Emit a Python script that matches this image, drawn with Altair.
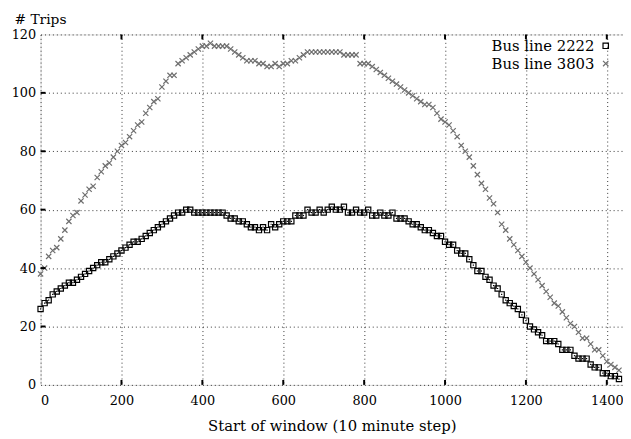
import altair as alt
import pandas as pd

x_vals = list(range(0, 1440, 10))

bus_2222 = [26, 28, 29, 31, 32, 33, 34, 35, 35, 36, 37, 38, 39, 40, 41, 42, 42, 43, 44, 45,
            46, 47, 48, 49, 49, 50, 51, 52, 53, 54, 55, 56, 57, 58, 59, 59, 60, 60, 59, 59,
            59, 59, 59, 59, 59, 59, 58, 57, 57, 56, 56, 55, 54, 54, 53, 54, 53, 55, 54, 55,
            56, 56, 56, 58, 58, 58, 60, 59, 59, 60, 59, 60, 61, 60, 60, 61, 59, 59, 60, 59,
            59, 60, 58, 58, 59, 58, 58, 59, 57, 57, 57, 56, 55, 55, 54, 53, 53, 52, 51, 51,
            49, 48, 48, 46, 45, 45, 43, 41, 39, 39, 37, 36, 34, 33, 31, 29, 28, 27, 26, 24,
            22, 20, 19, 18, 17, 15, 15, 15, 14, 12, 12, 12, 10, 9, 9, 9, 7, 6, 6, 4,
            4, 3, 3, 2]

bus_3803 = [38, 40, 44, 46, 47, 50, 53, 56, 58, 59, 63, 65, 67, 68, 71, 73, 75, 76, 78, 80,
            82, 83, 85, 87, 89, 90, 93, 95, 97, 98, 102, 104, 106, 106, 110, 111, 112, 113, 114, 115,
            116, 116, 117, 116, 116, 116, 116, 115, 114, 113, 112, 111, 111, 111, 110, 110, 109, 109, 110, 109,
            110, 110, 111, 111, 112, 113, 114, 114, 114, 114, 114, 114, 114, 114, 114, 113, 113, 113, 113, 110,
            110, 110, 109, 108, 107, 106, 105, 104, 103, 102, 101, 100, 99, 98, 97, 96, 96, 95, 93, 91,
            90, 89, 87, 85, 82, 80, 78, 75, 72, 69, 67, 64, 62, 59, 55, 53, 50, 48, 46, 44,
            42, 40, 38, 36, 34, 32, 30, 28, 27, 25, 23, 21, 20, 18, 16, 16, 14, 12, 12, 10,
            8, 7, 6, 5]

series_names = ["Bus line 2222", "Bus line 3803"]
x_ticks = [0, 200, 400, 600, 800, 1000, 1200, 1400]
y_ticks = [0, 20, 40, 60, 80, 100, 120]

FONT = "DejaVu Serif"
FS = 13
TFS = 15
CROSS = "M-1,-1L1,1M-1,1L1,-1"

df = pd.DataFrame({
    "x": x_vals + x_vals,
    "y": bus_2222 + bus_3803,
    "series": [series_names[0]] * len(bus_2222) + [series_names[1]] * len(bus_3803),
})
xt = pd.DataFrame({"x": x_ticks[1:]})
yt = pd.DataFrame({"y": y_ticks[1:-1]})

xenc = alt.X("x:Q", scale=alt.Scale(domain=[0, 1440], nice=False, zero=False),
             axis=alt.Axis(values=x_ticks, format="d", title="Start of window (10 minute step)",
                           grid=True, gridDash=[1, 3], gridColor="#333", gridWidth=1,
                           tickSize=0, domain=False, labelPadding=10,
                           labelFont=FONT, labelFontSize=FS, labelColor="black",
                           labelFontWeight="normal",
                           titleFont=FONT, titleFontSize=TFS, titleFontWeight="normal",
                           titleColor="black", titleY=41, titleBaseline="middle"))
yenc = alt.Y("y:Q", scale=alt.Scale(domain=[0, 120], nice=False),
             axis=alt.Axis(values=y_ticks, format="d", title="# Trips", grid=True, gridDash=[1, 3],
                           gridColor="#333", gridWidth=1, tickSize=0, domain=False,
                           labelPadding=5, labelFont=FONT, labelFontSize=FS,
                           labelColor="black", titleFont=FONT, titleFontSize=14,
                           titleFontWeight="normal", titleColor="black", titleAngle=0,
                           titleAlign="left", titleBaseline="middle", titleX=-27, titleY=-15))

leg = alt.Legend(title=None, orient="none", legendX=565, legendY=4,
                 labelAlign="right", labelOffset={"expr": "-19"}, labelFont=FONT, labelFontSize=TFS,
                 labelColor="black", symbolSize=30, symbolStrokeWidth=1.2,
                 rowPadding=2)

points = alt.Chart(df).mark_point(filled=False, size=28, strokeWidth=1.2, opacity=1).encode(
    x=xenc, y=yenc,
    color=alt.Color("series:N", scale=alt.Scale(domain=series_names, range=["black", "#6e6e6e"]), legend=leg),
    shape=alt.Shape("series:N", scale=alt.Scale(domain=series_names, range=["square", CROSS]), legend=leg),
)

dots = alt.Chart(df).transform_filter(alt.datum.series == series_names[0]).mark_point(
    filled=True, shape="square", size=1.5, color="black", opacity=1).encode(
    x=alt.X("x:Q"), y=alt.Y("y:Q"))

bt = alt.Chart(xt).mark_rule(color="black", strokeWidth=2).encode(
    x=alt.X("x:Q"), y=alt.value(355), y2=alt.value(350))
tt = alt.Chart(xt).mark_rule(color="black", strokeWidth=2).encode(
    x=alt.X("x:Q"), y=alt.value(0), y2=alt.value(5))
lt = alt.Chart(yt).mark_rule(color="black", strokeWidth=2).encode(
    y=alt.Y("y:Q"), x=alt.value(0), x2=alt.value(5))

chart = alt.layer(points, dots, bt, tt, lt).properties(
    width=590, height=355,
    autosize=alt.AutoSizeParams(type="none"),
    padding={"left": 33, "top": 24, "right": 0, "bottom": 50},
).configure_view(stroke="black", strokeWidth=2).configure(background="white")

chart.save("out.html", embed_options={"renderer": "svg", "actions": False})
